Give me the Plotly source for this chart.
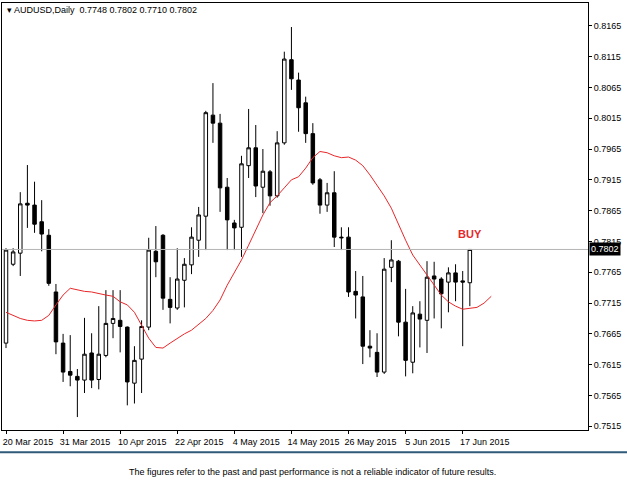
import plotly.graph_objects as go

# AUDUSD daily bars, 20 Mar 2015 .. 18 Jun 2015 (bar index on x)
opens = [0.7650, 0.7778, 0.7796, 0.7877, 0.7874, 0.7847, 0.7825, 0.7733, 0.7650, 0.7604,
         0.7596, 0.7590, 0.7634, 0.7591, 0.7630, 0.7682, 0.7687, 0.7676, 0.7585, 0.7624,
         0.7676, 0.7799, 0.7825, 0.7721, 0.7707, 0.7752, 0.7777, 0.7817, 0.7856, 0.8020,
         0.8007, 0.7903, 0.7845, 0.7838, 0.7938, 0.7967, 0.7903, 0.7928, 0.7889, 0.7975,
         0.8110, 0.8077, 0.8040, 0.7990, 0.7915, 0.7874, 0.7894, 0.7822, 0.7822, 0.7734,
         0.7725, 0.7645, 0.7635, 0.7603, 0.7773, 0.7783, 0.7684, 0.7619, 0.7697, 0.7687,
         0.7759, 0.7754, 0.7749, 0.7764, 0.7751, 0.7748]
highs = [0.7804, 0.7804, 0.7895, 0.7939, 0.7912, 0.7882, 0.7835, 0.7746, 0.7665, 0.7663,
         0.7608, 0.7691, 0.7666, 0.7710, 0.7736, 0.7736, 0.7736, 0.7677, 0.7645, 0.7687,
         0.7821, 0.7840, 0.7827, 0.7757, 0.7804, 0.7788, 0.7838, 0.7871, 0.8027, 0.8072,
         0.8022, 0.7918, 0.7850, 0.7954, 0.8030, 0.8004, 0.7965, 0.7931, 0.7994, 0.8123,
         0.8163, 0.8089, 0.8050, 0.8007, 0.7918, 0.7910, 0.7929, 0.7838, 0.7838, 0.7767,
         0.7759, 0.7671, 0.7666, 0.7788, 0.7817, 0.7785, 0.7738, 0.7710, 0.7718, 0.7783,
         0.7782, 0.7757, 0.7773, 0.7778, 0.7767, 0.7802]
lows = [0.7642, 0.7775, 0.7759, 0.7837, 0.7829, 0.7799, 0.7743, 0.7632, 0.7587, 0.7580,
        0.7530, 0.7569, 0.7577, 0.7575, 0.7627, 0.7658, 0.7635, 0.7549, 0.7552, 0.7569,
        0.7671, 0.7757, 0.7704, 0.7682, 0.7704, 0.7708, 0.7762, 0.7790, 0.7801, 0.7975,
        0.7863, 0.7801, 0.7801, 0.7790, 0.7918, 0.7887, 0.7861, 0.7873, 0.7886, 0.7972,
        0.8061, 0.7993, 0.7975, 0.7907, 0.7860, 0.7863, 0.7806, 0.7801, 0.7725, 0.7690,
        0.7616, 0.7627, 0.7595, 0.7600, 0.7749, 0.7661, 0.7596, 0.7601, 0.7643, 0.7634,
        0.7690, 0.7674, 0.7700, 0.7718, 0.7645, 0.7710]
closes = [0.7801, 0.7798, 0.7876, 0.7874, 0.7843, 0.7827, 0.7747, 0.7652, 0.7603, 0.7598,
          0.7590, 0.7632, 0.7590, 0.7632, 0.7682, 0.7690, 0.7677, 0.7587, 0.7622, 0.7677,
          0.7801, 0.7782, 0.7723, 0.7708, 0.7754, 0.7778, 0.7822, 0.7858, 0.8024, 0.8007,
          0.7902, 0.7850, 0.7837, 0.7941, 0.7967, 0.7905, 0.7929, 0.7889, 0.7975, 0.8111,
          0.8079, 0.8032, 0.7990, 0.7910, 0.7874, 0.7894, 0.7822, 0.7821, 0.7733, 0.7728,
          0.7645, 0.7642, 0.7603, 0.7770, 0.7785, 0.7684, 0.7622, 0.7699, 0.7689, 0.7757,
          0.7754, 0.7730, 0.7764, 0.7749, 0.7749, 0.7802]

# shifted moving average (red), runs a few bars past the last candle
ma = [0.7700, 0.7695, 0.7690, 0.7687, 0.7686, 0.7687, 0.7695, 0.7712, 0.7728, 0.7739,
      0.7736, 0.7734, 0.7733, 0.7730, 0.7728, 0.7726, 0.7717, 0.7712, 0.7700, 0.7679,
      0.7658, 0.7643, 0.7642, 0.7650, 0.7658, 0.7665, 0.7671, 0.7681, 0.7690, 0.7703,
      0.7720, 0.7744, 0.7765, 0.7785, 0.7809, 0.7834, 0.7858, 0.7878, 0.7889, 0.7902,
      0.7915, 0.7920, 0.7934, 0.7951, 0.7961, 0.7959, 0.7954, 0.7951, 0.7952, 0.7947,
      0.7938, 0.7923, 0.7907, 0.7889, 0.7869, 0.7842, 0.7817, 0.7793, 0.7777, 0.7759,
      0.7744, 0.7728, 0.7717, 0.7710, 0.7705, 0.7707, 0.7708, 0.7715, 0.7726]

date_ticks = [0, 8, 16, 24, 32, 40, 48, 56, 64]
date_labels = ['20 Mar 2015', '31 Mar 2015', '10 Apr 2015', '22 Apr 2015', '4 May 2015',
               '14 May 2015', '26 May 2015', '5 Jun 2015', '17 Jun 2015']
price_ticks = [0.7515, 0.7565, 0.7615, 0.7665, 0.7715, 0.7765, 0.7815, 0.7865,
               0.7915, 0.7965, 0.8015, 0.8065, 0.8115, 0.8165]
last_price = 0.7802

bars = list(range(len(opens)))
fnt = 'Liberation Sans'

fig = go.Figure()
fig.add_trace(go.Candlestick(
    x=bars, open=opens, high=highs, low=lows, close=closes,
    increasing=dict(line=dict(color='black', width=1), fillcolor='white'),
    decreasing=dict(line=dict(color='black', width=1), fillcolor='black'),
    whiskerwidth=0, showlegend=False, hoverinfo='skip'))
fig.add_trace(go.Scatter(x=list(range(len(ma))), y=ma, mode='lines',
                         line=dict(color='#e8272a', width=1), showlegend=False, hoverinfo='skip'))

fig.add_hline(y=last_price, line=dict(color='#b4b4b4', width=1))

fig.add_annotation(x=1, xref='paper', y=last_price, yref='y', xanchor='left', xshift=1,
                   text=f'{last_price:.4f}', showarrow=False, bgcolor='black',
                   font=dict(family=fnt, size=9, color='white'), borderpad=1)
fig.add_annotation(x=len(opens) - 1, y=0.7827, text='<b>BUY</b>', showarrow=False,
                   font=dict(family=fnt, size=11, color='#e8272a'))
fig.add_annotation(x=0.005, xref='paper', y=1, yref='paper', xanchor='left', yanchor='top',
                   text='▾ AUDUSD,Daily  0.7748 0.7802 0.7710 0.7802', showarrow=False,
                   font=dict(family=fnt, size=9, color='black'))
fig.add_annotation(x=0.53, xref='paper', y=-0.098, yref='paper', yanchor='middle',
                   text='The figures refer to the past and past performance is not a reliable indicator of future results.',
                   showarrow=False, font=dict(family=fnt, size=9, color='black'))
fig.add_shape(type='line', xref='paper', yref='paper', x0=-0.01, x1=1.1, y0=-0.052, y1=-0.052,
              line=dict(color='#2f5a7a', width=2))

fig.update_xaxes(range=[-0.56, 81.56], tickvals=date_ticks, ticktext=date_labels,
                 ticks='outside', ticklen=3, tickcolor='black', ticklabelshift=22,
                 tickangle=0, ticklabelstandoff=0,
                 tickfont=dict(family=fnt, size=9, color='black'),
                 showgrid=False, zeroline=False, showline=True, linecolor='black',
                 mirror=True, rangeslider=dict(visible=False), fixedrange=True)
fig.update_yaxes(range=[0.7509, 0.8202], side='right', tickvals=price_ticks,
                 tickformat='.4f', ticks='outside', ticklen=3, tickcolor='black',
                 tickfont=dict(family=fnt, size=9, color='black'),
                 showgrid=False, zeroline=False, showline=True, linecolor='black', mirror=True)

fig.update_layout(width=627, height=495, margin=dict(l=2, r=39, t=3, b=65),
                  plot_bgcolor='white', paper_bgcolor='white')
fig.write_html('out.html', config={'displayModeBar': False},
               post_script="document.body.style.margin='0';")
